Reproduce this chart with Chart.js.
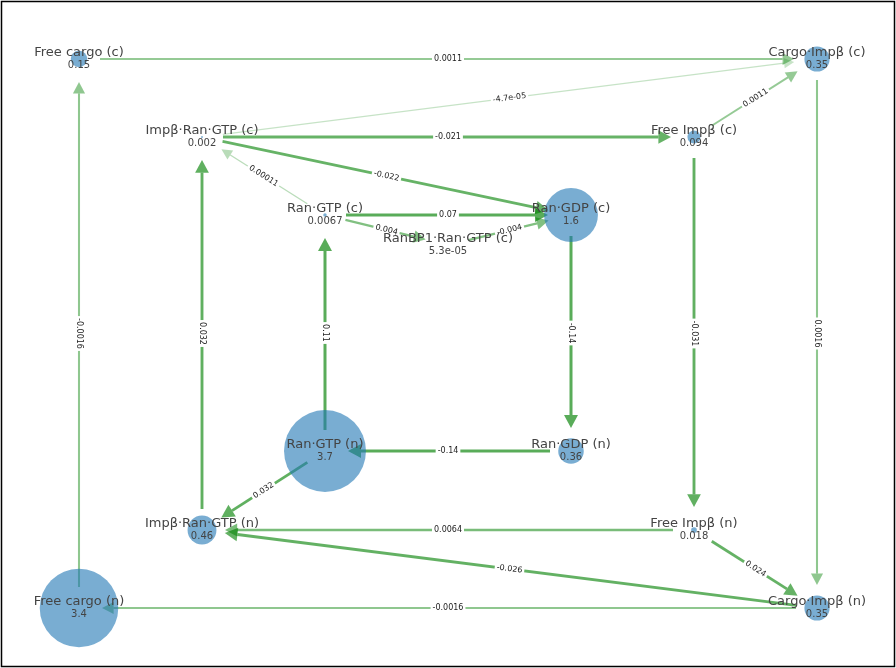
<!DOCTYPE html>
<html>
<head>
<meta charset="utf-8">
<script src="https://cdn.jsdelivr.net/npm/chart.js@4.4.1/dist/chart.umd.min.js"></script>
<style>
  html,body{margin:0;padding:0;background:#fff;}
  #wrap{width:896px;height:668px;}
</style>
</head>
<body>
<div id="wrap"><canvas id="net"></canvas></div>
<script>
// node layout (network coords) and concentrations
const nodeNames = ["Free cargo (c)","Cargo·Impβ (c)","Impβ·Ran·GTP (c)","Free Impβ (c)","Ran·GTP (c)","Ran·GDP (c)",
  "RanBP1·Ran·GTP (c)","Ran·GTP (n)","Ran·GDP (n)","Impβ·Ran·GTP (n)","Free Impβ (n)","Free cargo (n)","Cargo·Impβ (n)"];
const nodeX = [79,817,202,694,325,571,448,325,571,202,694,79,817];
const nodeY = [59,59,137,137,215,215,245,451,451,530,530,608,608];
const nodeValues = [0.15,0.35,0.002,0.094,0.0067,1.6,5.3e-05,3.7,0.36,0.46,0.018,3.4,0.35];
const nodeLabels = ["0.15","0.35","0.002","0.094","0.0067","1.6","5.3e-05","3.7","0.36","0.46","0.018","3.4","0.35"];

// edges: source index, target index, flux
const edgeFrom = [0,2,3,2,2,4,4,4,6,5,8,7,7,9,3,10,10,12,12,11,1];
const edgeTo   = [1,1,1,3,5,2,5,6,5,8,7,4,9,2,10,9,12,9,11,0,12];
const edgeValues = [0.0011,-4.7e-05,0.0011,-0.021,-0.022,0.00011,0.07,0.004,-0.004,-0.14,-0.14,0.11,0.032,0.032,-0.031,0.0064,0.024,-0.026,-0.0016,-0.0016,0.0016];
const edgeLabels = ["0.0011","-4.7e-05","0.0011","-0.021","-0.022","0.00011","0.07","0.004","-0.004","-0.14","-0.14","0.11","0.032","0.032","-0.031","0.0064","0.024","-0.026","-0.0016","-0.0016","0.0016"];

function edgeStrength(v){
  const l = Math.log10(Math.abs(v));
  return Math.max(0, Math.min(1, (l + 4.5) / 3.2));
}

const networkPlugin = {
  id: "network",
  beforeDatasetsDraw(chart){
    const ctx = chart.ctx, xs = chart.scales.x, ys = chart.scales.y;
    ctx.save();
    edgeFrom.forEach((s, i) => {
      const t = edgeTo[i];
      const x1 = xs.getPixelForValue(nodeX[s]), y1 = ys.getPixelForValue(nodeY[s]);
      const x2 = xs.getPixelForValue(nodeX[t]), y2 = ys.getPixelForValue(nodeY[t]);
      const ang = Math.atan2(y2 - y1, x2 - x1);
      const k = edgeStrength(edgeValues[i]);
      const w = 1 + 2 * k, a = 0.2 + 0.45 * k;
      const sx = x1 + Math.cos(ang) * 21, sy = y1 + Math.sin(ang) * 21;
      const tx = x2 - Math.cos(ang) * 23, ty = y2 - Math.sin(ang) * 23;
      const hl = 10 + 3 * k, hw = 5 + 2 * k;
      const bx = tx - Math.cos(ang) * hl, by = ty - Math.sin(ang) * hl;
      ctx.strokeStyle = `rgba(0,128,0,${a})`;
      ctx.fillStyle = `rgba(0,128,0,${a})`;
      ctx.lineWidth = w;
      ctx.beginPath(); ctx.moveTo(sx, sy); ctx.lineTo(bx, by); ctx.stroke();
      ctx.beginPath();
      ctx.moveTo(tx, ty);
      ctx.lineTo(bx - Math.sin(ang) * hw, by + Math.cos(ang) * hw);
      ctx.lineTo(bx + Math.sin(ang) * hw, by - Math.cos(ang) * hw);
      ctx.closePath(); ctx.fill();
    });
    ctx.restore();
  },
  afterDatasetsDraw(chart){
    const ctx = chart.ctx, xs = chart.scales.x, ys = chart.scales.y;
    ctx.save();
    // edge labels
    ctx.font = "8px 'DejaVu Sans'";
    ctx.textAlign = "center"; ctx.textBaseline = "middle";
    edgeFrom.forEach((s, i) => {
      const t = edgeTo[i];
      const x1 = xs.getPixelForValue(nodeX[s]), y1 = ys.getPixelForValue(nodeY[s]);
      const x2 = xs.getPixelForValue(nodeX[t]), y2 = ys.getPixelForValue(nodeY[t]);
      let ang = Math.atan2(y2 - y1, x2 - x1);
      if (ang > Math.PI / 2) ang -= Math.PI;
      if (ang <= -Math.PI / 2) ang += Math.PI;
      ctx.save();
      ctx.translate((x1 + x2) / 2, (y1 + y2) / 2);
      ctx.rotate(ang);
      const tw = ctx.measureText(edgeLabels[i]).width;
      ctx.fillStyle = "#fff";
      ctx.fillRect(-tw / 2 - 2, -5, tw + 4, 10);
      ctx.fillStyle = "#222";
      ctx.fillText(edgeLabels[i], 0, 0);
      ctx.restore();
    });
    // node labels
    ctx.fillStyle = "#444";
    nodeNames.forEach((n, i) => {
      const x = xs.getPixelForValue(nodeX[i]), y = ys.getPixelForValue(nodeY[i]);
      ctx.font = "13px 'DejaVu Sans'";
      ctx.fillText(n, x, y - 6);
      ctx.font = "10px 'DejaVu Sans'";
      ctx.fillText(nodeLabels[i], x, y + 6);
    });
    // frame
    ctx.strokeStyle = "#000"; ctx.lineWidth = 1.5;
    ctx.strokeRect(1.5, 1.5, 893, 665);
    ctx.restore();
  }
};

new Chart(document.getElementById("net"), {
  type: "bubble",
  data: {
    datasets: [{
      data: nodeX.map((x, i) => ({x: x, y: nodeY[i], r: 21.3 * Math.sqrt(nodeValues[i])})),
      backgroundColor: "rgba(31,119,180,0.6)",
      borderWidth: 0,
      clip: false
    }]
  },
  options: {
    responsive: true, maintainAspectRatio: false, animation: false,
    layout: {padding: 0, autoPadding: false},
    plugins: {legend: {display: false}, tooltip: {enabled: false}},
    scales: {
      x: {type: "linear", min: 0, max: 896, display: false},
      y: {type: "linear", min: 0, max: 668, reverse: true, display: false}
    }
  },
  plugins: [networkPlugin]
});
</script>
</body>
</html>
